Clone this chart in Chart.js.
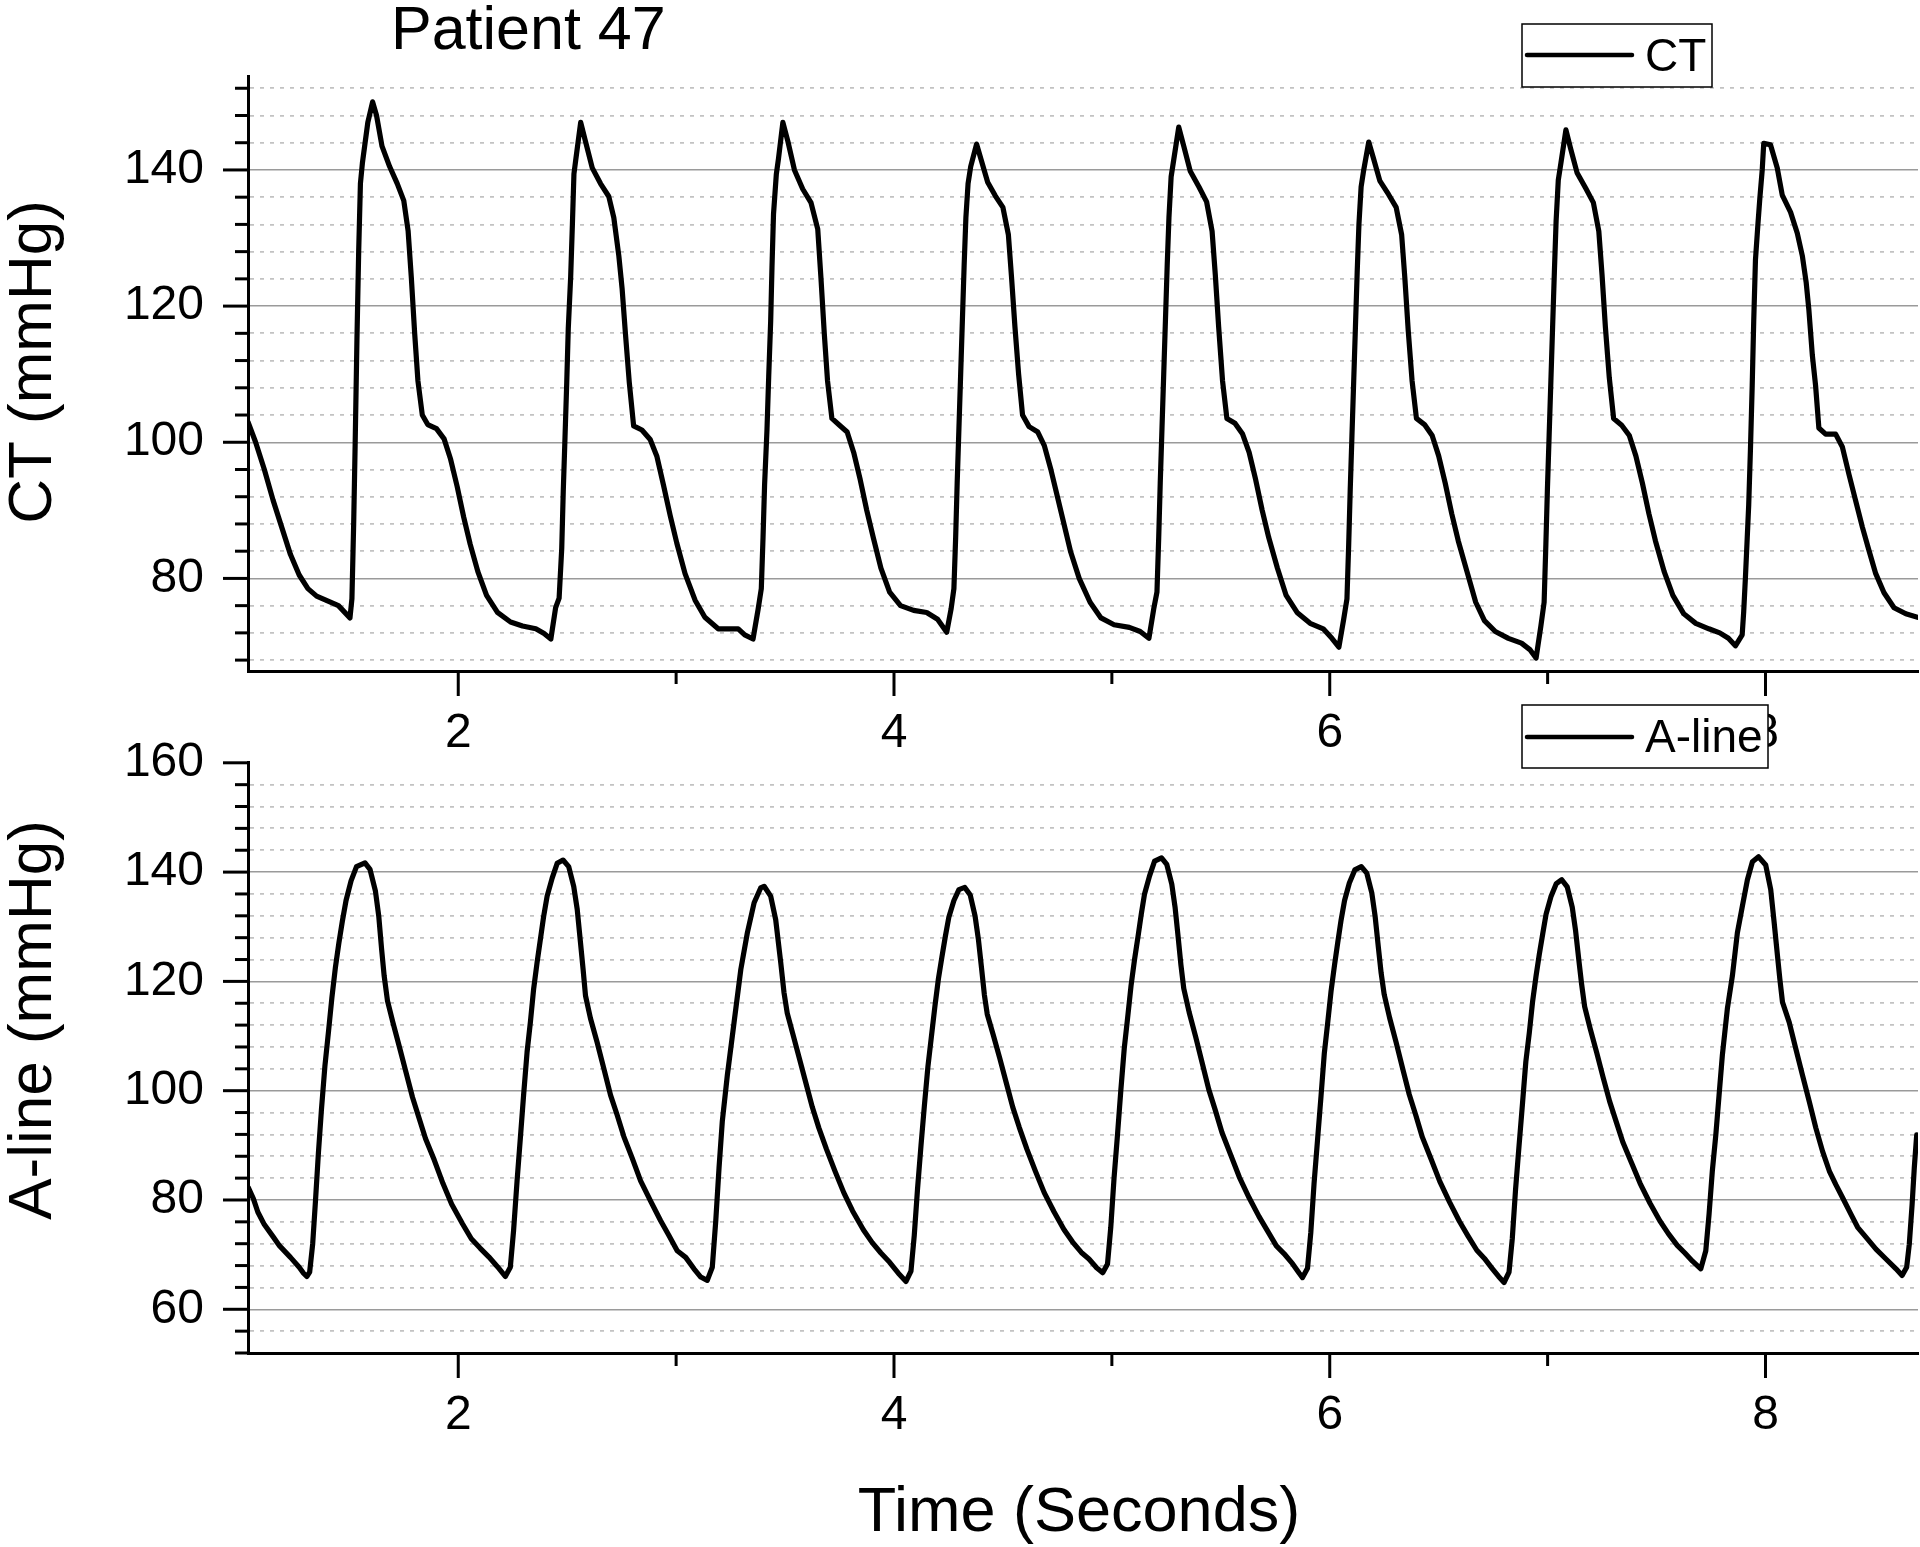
<!DOCTYPE html>
<html>
<head>
<meta charset="utf-8">
<script src="https://cdn.jsdelivr.net/npm/chart.js@4.4.1/dist/chart.umd.min.js"></script>
<style>
  html, body { margin: 0; padding: 0; background: #fff; }
  #wrap { position: relative; width: 1920px; height: 1547px; overflow: hidden; }
  canvas { position: absolute; left: 0; }
  #ctChart { top: 0; z-index: 1; }
  #alChart { top: 690px; z-index: 2; }
</style>
</head>
<body>
<div id="wrap">
  <canvas id="ctChart" width="1920" height="770"></canvas>
  <canvas id="alChart" width="1920" height="857"></canvas>
</div>
<script>
// time axis
var timeMin = 1.035, timeMax = 8.70;
var timeTicks = [2, 4, 6, 8];

// CT waveform (seconds, mmHg)
var ctTime = [
  1.035, 1.07, 1.11, 1.15, 1.19, 1.23, 1.27, 1.31, 1.35, 1.40,
  1.45, 1.503, 1.512, 1.520, 1.527, 1.535, 1.543, 1.551, 1.560, 1.585,
  1.607, 1.625, 1.650, 1.685, 1.72, 1.75, 1.77, 1.785, 1.80, 1.815,
  1.835, 1.86, 1.90, 1.935, 1.965, 1.995, 2.025, 2.055, 2.09, 2.13,
  2.18, 2.24, 2.295, 2.356, 2.394, 2.425, 2.447, 2.463, 2.475, 2.482,
  2.490, 2.498, 2.505, 2.516, 2.524, 2.531, 2.539, 2.562, 2.584, 2.615,
  2.653, 2.691, 2.714, 2.737, 2.752, 2.767, 2.785, 2.805, 2.843, 2.881,
  2.912, 2.942, 2.973, 3.003, 3.041, 3.087, 3.132, 3.193, 3.285, 3.315,
  3.353, 3.376, 3.391, 3.399, 3.406, 3.417, 3.425, 3.434, 3.440, 3.447,
  3.460, 3.470, 3.490, 3.513, 3.543, 3.581, 3.619, 3.650, 3.665, 3.68,
  3.695, 3.715, 3.75, 3.785, 3.815, 3.845, 3.875, 3.905, 3.94, 3.98,
  4.03, 4.09, 4.15, 4.20, 4.242, 4.262, 4.275, 4.283, 4.290, 4.298,
  4.306, 4.314, 4.322, 4.330, 4.340, 4.352, 4.379, 4.40, 4.43, 4.465,
  4.50, 4.525, 4.54, 4.555, 4.572, 4.59, 4.62, 4.66, 4.69, 4.72,
  4.75, 4.78, 4.81, 4.85, 4.90, 4.95, 5.01, 5.08, 5.13, 5.170,
  5.192, 5.207, 5.215, 5.222, 5.230, 5.238, 5.246, 5.254, 5.262, 5.272,
  5.284, 5.307, 5.33, 5.36, 5.40, 5.435, 5.46, 5.475, 5.49, 5.508,
  5.528, 5.565, 5.60, 5.63, 5.66, 5.69, 5.72, 5.76, 5.80, 5.85,
  5.91, 5.97, 6.01, 6.042, 6.064, 6.079, 6.087, 6.094, 6.102, 6.110,
  6.118, 6.126, 6.134, 6.144, 6.156, 6.179, 6.20, 6.23, 6.27, 6.305,
  6.33, 6.345, 6.36, 6.378, 6.398, 6.435, 6.47, 6.50, 6.53, 6.56,
  6.59, 6.63, 6.67, 6.71, 6.76, 6.82, 6.88, 6.92, 6.947, 6.969,
  6.984, 6.992, 6.999, 7.007, 7.015, 7.023, 7.031, 7.039, 7.049, 7.061,
  7.084, 7.105, 7.135, 7.175, 7.21, 7.235, 7.25, 7.265, 7.283, 7.303,
  7.34, 7.375, 7.405, 7.435, 7.465, 7.495, 7.535, 7.575, 7.625, 7.68,
  7.74, 7.79, 7.83, 7.862, 7.893, 7.900, 7.908, 7.916, 7.923, 7.931,
  7.939, 7.946, 7.954, 7.965, 7.974, 7.985, 7.992, 8.023, 8.054, 8.077,
  8.115, 8.146, 8.169, 8.187, 8.199, 8.215, 8.230, 8.245, 8.276, 8.322,
  8.353, 8.383, 8.414, 8.445, 8.475, 8.506, 8.544, 8.590, 8.644, 8.698
];
var ctValue = [
  103.0, 100.0, 96.0, 91.5, 87.5, 83.5, 80.5, 78.5, 77.4, 76.7,
  76.0, 74.2, 77, 88, 100, 115, 128, 138, 141, 147,
  150, 148, 143.5, 140.5, 138, 135.5, 131, 124, 116, 109,
  104, 102.6, 102.0, 100.5, 97.5, 93.5, 89, 85, 81, 77.5,
  75, 73.6, 73.0, 72.6, 71.9, 71.1, 75.7, 77.1, 84.4, 92.8,
  100.7, 108.8, 116.7, 124.3, 132.1, 139.4, 141.4, 147.0, 144.2, 140.3,
  138.0, 136.1, 133.0, 127.4, 122.6, 116.1, 108.8, 102.4, 101.8, 100.4,
  97.9, 93.7, 89.2, 85.2, 80.7, 76.8, 74.3, 72.6, 72.6, 71.7,
  71.1, 75.4, 78.5, 86.1, 93.7, 101.8, 109.7, 117.8, 125.7, 133.5,
  139.4, 141.7, 147.0, 144.2, 140.0, 137.2, 135.2, 131.3, 124.0, 116,
  109, 103.5, 102.5, 101.5, 98.5, 94.5, 90, 86, 81.5, 78,
  76, 75.3, 75.0, 74.0, 72.1, 75.5, 78.5, 86, 94, 102,
  110, 118, 126, 133, 138, 140.5, 143.8, 141.5, 138.2, 136.2,
  134.5, 130.5, 124, 117, 110, 104, 102.3, 101.5, 99.5, 96,
  92, 88, 84, 80, 76.5, 74.2, 73.2, 72.8, 72.2, 71.2,
  75.5, 78, 86, 94, 102, 110, 118, 126, 133, 139,
  141.5, 146.3, 143.5, 139.8, 137.5, 135.3, 131, 124.5, 117, 109,
  103.5, 102.8, 101.2, 98.5, 94.5, 90, 86, 81.5, 77.5, 75,
  73.4, 72.6, 71.2, 69.9, 74, 77, 85, 93, 101, 109,
  117, 125, 132, 137.5, 140, 144.1, 141.8, 138.4, 136.4, 134.5,
  130.5, 124, 116.5, 109, 103.5, 102.6, 101, 98, 94, 89.5,
  85.5, 81, 76.5, 73.8, 72.2, 71.2, 70.5, 69.5, 68.3, 73,
  76.5, 85, 93, 101, 109, 117, 125, 132.5, 138.5, 141,
  145.9, 143.2, 139.6, 137.3, 135.2, 131, 124.5, 117, 109.5, 103.5,
  102.5, 101, 98, 94, 89.5, 85.5, 81, 77.5, 74.8, 73.4,
  72.6, 72.0, 71.2, 70.1, 71.7, 75.1, 80.2, 85.8, 90.8, 99.0,
  108.3, 117.8, 126.8, 131.9, 135.8, 140.0, 143.9, 143.7, 140.3, 136.3,
  133.8, 130.7, 127.4, 123.4, 119.5, 112.8, 108.3, 102.1, 101.2, 101.2,
  99.3, 95.3, 91.4, 87.5, 84.1, 80.7, 77.9, 75.7, 74.8, 74.3
];

// A-line waveform (seconds, mmHg)
var alTime = [
  1.036, 1.06, 1.08, 1.11, 1.15, 1.18, 1.23, 1.27, 1.29, 1.305,
  1.318, 1.332, 1.345, 1.358, 1.372, 1.388, 1.405, 1.42, 1.436, 1.452,
  1.468, 1.485, 1.508, 1.533, 1.572, 1.595, 1.62, 1.635, 1.648, 1.66,
  1.675, 1.70, 1.73, 1.76, 1.79, 1.82, 1.85, 1.89, 1.93, 1.97,
  2.02, 2.06, 2.10, 2.14, 2.18, 2.216, 2.239, 2.254, 2.270, 2.285,
  2.300, 2.316, 2.331, 2.346, 2.362, 2.377, 2.392, 2.408, 2.431, 2.454,
  2.481, 2.507, 2.530, 2.546, 2.561, 2.573, 2.584, 2.607, 2.637, 2.668,
  2.699, 2.729, 2.760, 2.798, 2.837, 2.883, 2.929, 2.967, 3.005, 3.044,
  3.082, 3.113, 3.143, 3.166, 3.182, 3.197, 3.212, 3.235, 3.266, 3.297,
  3.327, 3.358, 3.388, 3.404, 3.434, 3.457, 3.480, 3.495, 3.51, 3.535,
  3.565, 3.595, 3.625, 3.655, 3.69, 3.73, 3.77, 3.81, 3.86, 3.90,
  3.94, 3.98, 4.02, 4.055, 4.078, 4.093, 4.108, 4.124, 4.14, 4.156,
  4.172, 4.188, 4.204, 4.22, 4.236, 4.252, 4.275, 4.298, 4.325, 4.35,
  4.372, 4.388, 4.403, 4.415, 4.428, 4.455, 4.485, 4.515, 4.545, 4.575,
  4.61, 4.65, 4.69, 4.735, 4.78, 4.82, 4.86, 4.895, 4.93, 4.958,
  4.98, 4.995, 5.01, 5.026, 5.041, 5.057, 5.072, 5.088, 5.104, 5.12,
  5.135, 5.15, 5.173, 5.196, 5.228, 5.252, 5.275, 5.29, 5.305, 5.317,
  5.33, 5.355, 5.385, 5.415, 5.445, 5.475, 5.505, 5.545, 5.585, 5.63,
  5.675, 5.715, 5.755, 5.79, 5.83, 5.86, 5.875, 5.898, 5.913, 5.928,
  5.944, 5.96, 5.975, 5.99, 6.006, 6.022, 6.037, 6.052, 6.068, 6.09,
  6.115, 6.145, 6.17, 6.193, 6.208, 6.223, 6.236, 6.25, 6.275, 6.305,
  6.335, 6.365, 6.395, 6.425, 6.465, 6.505, 6.55, 6.595, 6.635, 6.675,
  6.71, 6.745, 6.775, 6.80, 6.823, 6.838, 6.853, 6.869, 6.885, 6.9,
  6.916, 6.931, 6.947, 6.962, 6.978, 6.993, 7.016, 7.04, 7.065, 7.09,
  7.113, 7.128, 7.143, 7.156, 7.17, 7.195, 7.225, 7.255, 7.285, 7.315,
  7.345, 7.385, 7.425, 7.47, 7.515, 7.555, 7.595, 7.63, 7.665, 7.703,
  7.726, 7.741, 7.756, 7.772, 7.787, 7.802, 7.825, 7.848, 7.871, 7.894,
  7.917, 7.940, 7.968, 8.001, 8.024, 8.040, 8.055, 8.066, 8.078, 8.109,
  8.139, 8.170, 8.201, 8.231, 8.262, 8.293, 8.323, 8.354, 8.392, 8.423,
  8.461, 8.507, 8.553, 8.599, 8.627, 8.648, 8.660, 8.673, 8.683, 8.694
];
var alValue = [
  82.3, 80.2, 77.8, 75.5, 73.3, 71.6, 69.5, 67.7, 66.6, 66.0,
  66.8, 72, 80, 88.5, 96.5, 104.5, 111, 117, 122.5, 127,
  131, 134.8, 138.4, 141.0, 141.7, 140.5, 136.5, 132, 126, 121,
  116.5, 112.5, 108, 103.4, 98.8, 95, 91.2, 87.3, 83, 79.2,
  75.6, 72.9, 71.2, 69.6, 67.8, 66.0, 67.7, 74.4, 83.5, 91.3,
  99.2, 107.1, 112.5, 118.6, 123.5, 127.7, 131.9, 135.6, 138.9, 141.6,
  142.2, 141.0, 137.4, 133.2, 127.1, 122.2, 117.4, 113.2, 108.9, 104.1,
  99.2, 95.6, 91.6, 87.7, 83.5, 79.8, 76.2, 73.5, 70.7, 69.5,
  67.4, 65.9, 65.3, 67.7, 76.2, 85.9, 94.4, 102.8, 112.5, 122.2,
  128.9, 134.4, 137.1, 137.4, 135.6, 131.3, 123.5, 118, 114.2, 110.5,
  106, 101.5, 97, 93.2, 89.3, 85.2, 81.3, 78, 74.5, 72.2,
  70.3, 68.6, 66.6, 65.1, 67, 73.5, 82, 90, 97.5, 104.5,
  110, 115.5, 120.5, 124.5, 128.3, 131.8, 134.8, 136.8, 137.2, 135.8,
  132, 127.5, 122, 117.5, 114, 110.3, 106, 101.5, 97, 93.3,
  89.3, 85.2, 81.3, 77.8, 74.6, 72.3, 70.4, 69.2, 67.6, 66.7,
  68.3, 75, 84, 92, 100, 107.8, 113.2, 119.2, 124, 128.2,
  132.3, 136, 139.3, 142, 142.6, 141.4, 137.8, 133.6, 127.8, 123,
  118.7, 114.3, 109.8, 105, 100.2, 96.4, 92.4, 88.3, 84.2, 80.4,
  77, 74.3, 71.6, 70.2, 68.3, 66.6, 65.8, 67.5, 74, 83,
  91, 99, 106.8, 112.2, 118.2, 123, 127.2, 131.2, 134.8, 138,
  140.4, 141.0, 139.8, 136.2, 132, 126.3, 121.5, 117.6, 113.3, 108.8,
  104, 99.3, 95.5, 91.5, 87.5, 83.4, 79.6, 76.1, 73.4, 70.8,
  69.3, 67.5, 66, 64.9, 66.8, 73, 82, 90, 97.8, 105.3,
  110.6, 116.3, 121, 125, 128.8, 132.3, 135.6, 137.9, 138.6, 137.3,
  133.6, 129.4, 124, 119.5, 115.4, 111.4, 107, 102.4, 98, 94.3,
  90.6, 86.8, 83, 79.4, 76.2, 73.8, 71.7, 70.3, 68.8, 67.4,
  70.7, 77.4, 85.3, 91.9, 99.2, 106.5, 115.0, 121.0, 128.9, 133.8,
  138.6, 141.9, 142.8, 141.3, 136.8, 130.7, 124.7, 120.4, 116.2, 112.5,
  107.7, 102.8, 98.0, 93.2, 88.9, 85.3, 82.8, 80.4, 77.4, 75.0,
  73.2, 71.0, 69.2, 67.4, 66.2, 67.7, 71.9, 79.2, 85.9, 91.9
];

// y axes: range, labelled ticks every 20, minor every 4
var ctRange = [66.4, 153.8];
var alRange = [52, 160];
var yLabelStep = 20, yMinorStep = 4;

var FONT = '"Liberation Sans", Arial, sans-serif';
Chart.defaults.font.family = FONT;
Chart.defaults.color = '#000';
Chart.defaults.animation = false;

function isMajor(v) { return Math.abs(Math.round(v) % yLabelStep) === 0 && Math.abs(v - Math.round(v)) < 1e-6; }

// axis tick marks, legend box and free texts
var decorations = {
  id: 'decorations',
  afterDraw: function (chart, args, opts) {
    var ctx = chart.ctx, area = chart.chartArea, xs = chart.scales.x, ys = chart.scales.y;
    ctx.save();
    ctx.strokeStyle = '#000';
    ctx.lineWidth = 3;
    ys.ticks.forEach(function (t) {
      var py = ys.getPixelForValue(t.value);
      var len = isMajor(t.value) ? 25 : 13;
      ctx.beginPath(); ctx.moveTo(area.left - len, py); ctx.lineTo(area.left, py); ctx.stroke();
    });
    xs.ticks.forEach(function (t) {
      var px = xs.getPixelForValue(t.value);
      var len = Math.round(t.value) % 2 === 0 ? 25 : 13;
      ctx.beginPath(); ctx.moveTo(px, area.bottom); ctx.lineTo(px, area.bottom + len); ctx.stroke();
    });

    var lg = opts.legend, ds = chart.data.datasets[0];
    ctx.fillStyle = '#fff';
    ctx.fillRect(lg.x, lg.y, lg.w, lg.h);
    ctx.lineWidth = 1.5;
    ctx.strokeRect(lg.x, lg.y, lg.w, lg.h);
    ctx.lineWidth = 4.5;
    ctx.lineCap = 'round';
    ctx.beginPath(); ctx.moveTo(lg.x + 5, lg.lineY); ctx.lineTo(lg.x + 110, lg.lineY); ctx.stroke();
    ctx.fillStyle = '#000';
    ctx.font = '46px ' + FONT;
    ctx.textAlign = 'left';
    ctx.textBaseline = 'alphabetic';
    ctx.fillText(ds.label, lg.x + 123, lg.textY);

    (opts.texts || []).forEach(function (t) {
      ctx.save();
      ctx.translate(t.x, t.y);
      ctx.rotate(t.rot || 0);
      ctx.font = t.size + 'px ' + FONT;
      ctx.textAlign = t.align;
      ctx.fillText(t.text, 0, 0);
      ctx.restore();
    });
    ctx.restore();
  }
};

function points(times, values) {
  return times.map(function (t, i) { return { x: t, y: values[i] }; });
}

function makeChart(id, label, times, values, range, topPad, axisHeight, legend, texts) {
  return new Chart(document.getElementById(id), {
    type: 'line',
    data: {
      datasets: [{
        label: label,
        data: points(times, values),
        borderColor: '#000',
        borderWidth: 5.2,
        borderJoinStyle: 'round',
        borderCapStyle: 'round',
        pointRadius: 0,
        tension: 0
      }]
    },
    options: {
      responsive: false,
      devicePixelRatio: 1,
      layout: { padding: { top: topPad, right: 2, left: 0, bottom: 0 } },
      plugins: {
        legend: { display: false },
        tooltip: { enabled: false },
        decorations: { legend: legend, texts: texts }
      },
      scales: {
        x: {
          type: 'linear',
          min: timeMin,
          max: timeMax,
          afterFit: function (s) { s.height = axisHeight; },
          grid: { display: false, drawTicks: false },
          border: { display: true, color: '#000', width: 3 },
          ticks: {
            stepSize: 1,
            includeBounds: false,
            autoSkip: false,
            maxRotation: 0,
            padding: 34,
            font: { size: 48 },
            callback: function (v) { return timeTicks.indexOf(v) >= 0 ? String(v) : ''; }
          }
        },
        y: {
          min: range[0],
          max: range[1],
          afterFit: function (s) { s.width = 248; },
          grid: {
            drawTicks: false,
            color: function (c) {
              if (!c.tick) return '#999';
              if (c.tick.value >= range[1]) return 'rgba(0,0,0,0)';
              return isMajor(c.tick.value) ? '#9a9a9a' : '#c2c2c2';
            },
            lineWidth: function (c) { return c.tick && isMajor(c.tick.value) ? 1.5 : 1.8; }
          },
          border: {
            display: true, color: '#000', width: 3,
            dash: function (c) { return c.tick && !isMajor(c.tick.value) ? [4, 6] : []; }
          },
          ticks: {
            stepSize: yMinorStep,
            includeBounds: false,
            autoSkip: false,
            padding: 44,
            font: { size: 48 },
            callback: function (v) { return isMajor(v) ? String(Math.round(v)) : ''; }
          }
        }
      }
    },
    plugins: [decorations]
  });
}

makeChart('ctChart', 'CT', ctTime, ctValue, ctRange, 76, 99,
  { x: 1522, y: 24, w: 190, h: 63, lineY: 55, textY: 71 },
  [
    { text: 'Patient 47', x: 391, y: 49, size: 61, align: 'left' },
    { text: 'CT (mmHg)', x: 51, y: 362, size: 62, align: 'center', rot: -Math.PI / 2 }
  ]);

makeChart('alChart', 'A-line', alTime, alValue, alRange, 69, 194,
  { x: 1522, y: 15, w: 246, h: 63, lineY: 47, textY: 62 },
  [
    { text: 'A-line (mmHg)', x: 51, y: 330, size: 62, align: 'center', rot: -Math.PI / 2 },
    { text: 'Time (Seconds)', x: 1079, y: 841, size: 63, align: 'center' }
  ]);
</script>
</body>
</html>
